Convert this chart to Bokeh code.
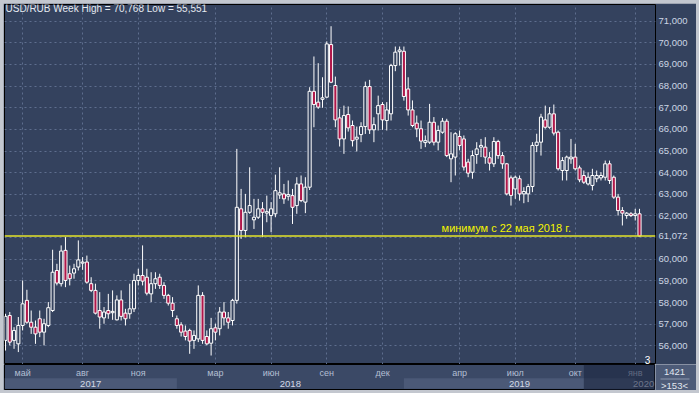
import numpy as np
from bokeh.plotting import figure
from bokeh.models import Range1d, FixedTicker, Label, ColumnDataSource, Span
from bokeh.layouts import column, row
from bokeh.embed import file_html
from bokeh.resources import INLINE
from bokeh.core.properties import value

# ---------------- data (weekly USD/RUB candles) ----------------
opens = [56.25, 57.40, 56.25, 56.09, 56.94, 58.10, 57.09, 56.86, 57.25, 56.63,
         56.94, 57.63, 59.48, 58.87, 60.41, 59.33, 59.36, 59.64, 59.82, 59.87,
         58.87, 58.56, 57.63, 57.29, 57.63, 57.53, 57.20, 58.12, 57.51, 57.48,
         57.71, 59.02, 59.25, 59.17, 58.40, 58.87, 59.17, 58.79, 58.33, 57.97,
         57.25, 56.97, 56.68, 56.71, 56.25, 56.32, 58.33, 56.43, 56.12, 56.83,
         56.79, 57.56, 57.29, 57.17, 58.10, 62.33, 61.33, 62.17, 61.82, 61.94,
         62.33, 62.13, 62.02, 62.10, 62.97, 63.02, 62.91, 62.94, 62.48, 63.48,
         62.64, 63.33, 67.76, 67.26, 67.39, 67.49, 69.92, 68.03, 66.53, 65.56,
         66.69, 66.18, 65.55, 65.76, 66.13, 67.98, 65.98, 66.72, 67.15, 66.41,
         66.72, 68.95, 69.59, 69.61, 67.87, 66.90, 66.29, 66.03, 65.39, 65.41,
         66.33, 65.41, 65.87, 66.38, 64.64, 64.72, 65.67, 65.56, 64.49, 64.02,
         64.84, 65.18, 65.18, 64.69, 64.41, 65.44, 64.79, 64.41, 63.76, 63.25,
         63.72, 63.02, 63.02, 63.36, 65.26, 65.41, 66.44, 66.10, 66.72, 65.87,
         64.10, 64.10, 64.64, 64.72, 64.22, 63.87, 63.48, 63.41, 63.72, 63.76,
         63.79, 64.41, 63.79, 62.87, 62.25, 62.02, 62.10, 62.02, 62.10]
highs = [57.48, 57.56, 56.86, 57.33, 59.02, 58.59, 57.63, 57.17, 57.63, 57.25,
         58.02, 60.44, 59.79, 60.64, 61.02, 59.71, 59.79, 60.87, 60.10, 60.17,
         59.17, 58.87, 58.48, 57.79, 58.40, 58.56, 58.33, 58.56, 57.71, 58.87,
         59.33, 59.56, 60.64, 59.56, 59.40, 59.40, 59.33, 58.94, 58.40, 58.25,
         57.40, 57.09, 56.94, 56.79, 56.71, 58.79, 58.48, 56.71, 57.29, 57.02,
         57.79, 58.02, 57.56, 58.17, 65.10, 63.25, 63.02, 64.25, 62.79, 62.79,
         62.64, 62.94, 62.64, 63.91, 64.25, 63.48, 63.64, 63.25, 63.79, 63.87,
         63.79, 67.95, 69.37, 69.06, 68.41, 70.07, 70.768, 68.44, 66.95, 67.10,
         67.06, 66.41, 66.13, 66.33, 68.21, 68.29, 66.56, 67.56, 67.26, 67.26,
         69.03, 69.83, 69.83, 69.83, 68.41, 67.34, 66.64, 66.41, 65.72, 67.18,
         66.57, 66.18, 66.53, 66.49, 65.87, 65.87, 65.95, 65.72, 64.64, 65.03,
         65.41, 65.56, 65.64, 64.95, 65.64, 65.52, 64.95, 64.45, 63.87, 63.87,
         63.87, 63.33, 63.48, 65.41, 65.80, 66.72, 67.10, 67.03, 67.15, 65.95,
         64.72, 64.79, 65.56, 65.33, 64.33, 64.10, 64.02, 64.18, 64.10, 64.02,
         64.56, 64.56, 63.87, 63.02, 62.41, 62.18, 62.18, 62.33, 62.33]
lows = [55.78, 56.02, 55.86, 55.71, 56.71, 57.02, 56.55, 56.09, 56.40, 56.02,
        56.86, 57.56, 58.79, 58.74, 58.71, 58.79, 59.10, 59.48, 59.51, 58.87,
        58.48, 57.45, 56.79, 57.02, 57.25, 57.20, 57.17, 57.17, 56.94, 57.25,
        57.56, 58.79, 58.79, 58.33, 58.02, 58.63, 58.63, 58.17, 57.86, 57.33,
        56.79, 56.43, 56.25, 55.63, 55.86, 56.17, 56.09, 56.02, 55.551, 56.25,
        56.48, 56.94, 56.79, 56.94, 57.95, 60.94, 61.02, 62.10, 61.40, 61.86,
        61.02, 61.71, 61.25, 61.94, 62.79, 62.56, 62.71, 61.63, 62.10, 62.64,
        62.13, 63.20, 66.10, 66.95, 67.00, 67.46, 68.14, 66.10, 65.21, 64.87,
        65.90, 65.21, 64.98, 65.41, 65.79, 65.79, 65.41, 65.95, 65.98, 65.95,
        66.41, 68.69, 68.95, 67.33, 66.64, 66.10, 65.64, 65.10, 65.18, 65.33,
        65.26, 65.03, 65.80, 64.72, 63.56, 63.87, 65.03, 64.10, 63.79, 63.72,
        64.41, 64.72, 64.41, 64.10, 64.26, 64.64, 64.18, 62.95, 62.48, 62.79,
        62.71, 62.59, 62.64, 63.10, 64.95, 64.79, 66.03, 66.03, 65.72, 64.10,
        63.64, 63.64, 64.41, 64.10, 63.56, 63.48, 63.41, 63.18, 63.56, 63.64,
        63.64, 63.48, 62.79, 62.02, 61.56, 61.87, 61.95, 61.79, 61.05]
closes = [57.36, 56.17, 56.71, 56.94, 57.94, 57.09, 56.86, 56.55, 56.63, 57.02,
          57.76, 59.40, 58.90, 60.38, 59.02, 59.10, 59.56, 59.97, 59.87, 58.94,
          58.56, 57.51, 57.33, 57.56, 57.48, 57.59, 58.12, 57.36, 57.25, 57.71,
          59.02, 59.25, 58.99, 58.43, 58.87, 59.10, 58.79, 58.33, 57.97, 57.63,
          56.94, 56.63, 56.43, 56.22, 56.48, 58.33, 56.25, 56.09, 56.79, 56.63,
          57.56, 57.29, 57.09, 58.10, 62.40, 61.33, 62.17, 62.48, 61.94, 62.33,
          62.17, 62.20, 62.33, 63.17, 63.07, 62.79, 62.99, 62.40, 63.48, 62.71,
          63.33, 67.76, 67.15, 67.03, 67.46, 69.95, 68.18, 66.44, 65.56, 66.64,
          66.07, 65.48, 65.64, 66.13, 67.98, 65.98, 66.22, 67.10, 66.44, 66.90,
          68.95, 69.57, 69.67, 67.52, 66.90, 66.18, 66.03, 65.46, 65.48, 66.33,
          65.41, 65.95, 66.38, 64.79, 64.87, 65.80, 65.26, 64.26, 63.98, 64.79,
          65.10, 65.26, 64.72, 64.44, 65.44, 64.79, 64.41, 63.02, 62.95, 63.79,
          63.02, 63.13, 63.36, 65.26, 65.41, 66.57, 66.10, 66.72, 65.83, 64.18,
          64.56, 64.72, 64.72, 64.18, 63.67, 63.56, 63.79, 63.87, 63.87, 63.87,
          64.41, 63.64, 62.87, 62.25, 62.13, 62.13, 62.02, 62.10, 61.072]

month_labels = ["май", "авг", "ноя", "мар", "июн", "сен", "дек", "апр", "июл", "окт", "янв"]
month_bar = [4, 18, 31, 49, 62, 75, 88, 106, 119, 133, 147]
year_labels = ["2017", "2018", "2019", "2020"]
year_first_bar = [0, 40, 93, 147]
y_ticks = [56, 57, 58, 59, 60, 61, 62, 63, 64, 65, 66, 67, 68, 69, 70, 71]
y_tick_labels = ["56,000", "57,000", "58,000", "59,000", "60,000", "61,000", "62,000", "63,000",
                 "64,000", "65,000", "66,000", "67,000", "68,000", "69,000", "70,000", "71,000"]
last_price = 61.072
last_price_label = "61,072"
note_text = "минимум с 22 мая 2018 г."
note_end_bar = 132
bars_total_text = "1421"
bars_visible_text = ">153<"
corner_text = "3"
scroll_start_bar = 135

# ---------------- style ----------------
BG = "#34425e"
ROW_BG = "#3b4966"
BAND = "#4b5977"
BOX_BG = "#4d5b78"
RED = "#b0174a"
GRID = "#5e6e8e"
FONT = "Liberation Sans"

X0, X1 = -0.23, 151.73
Y0, Y1 = 55.136, 71.772

p = figure(width=693, height=361, x_range=Range1d(X0, X1), y_range=Range1d(Y0, Y1),
           x_axis_location=None, y_axis_location="right", toolbar_location=None,
           output_backend="svg", min_border_left=1, min_border_right=41,
           min_border_top=1, min_border_bottom=0)
p.background_fill_color = BG
p.border_fill_color = BG
p.outline_line_color = "black"
p.outline_line_width = 1

# axis labels: the 61,000 label is hidden behind the last-price marker in the picture
axis_ticks = [t for t in y_ticks if t != 61] + [last_price]
axis_labels = {t: s for t, s in zip(y_ticks, y_tick_labels) if t != 61}
axis_labels[last_price] = last_price_label
p.yaxis.ticker = FixedTicker(ticks=axis_ticks)
p.yaxis.major_label_overrides = axis_labels
p.yaxis.major_tick_out = 0
p.yaxis.major_tick_in = 0
p.yaxis.minor_tick_out = 0
p.yaxis.minor_tick_in = 0
p.yaxis.axis_line_color = None
p.yaxis.major_label_standoff = 3
p.yaxis.major_label_text_font = FONT
p.yaxis.major_label_text_font_size = "9.5px"
p.yaxis.major_label_text_color = "#cdd6e4"

p.ygrid.ticker = FixedTicker(ticks=y_ticks)
p.xgrid.ticker = FixedTicker(ticks=month_bar)
for g in (p.xgrid, p.ygrid):
    g.grid_line_color = GRID
    g.grid_line_dash = "2 3"
    g.grid_line_width = 1

idx = np.arange(len(opens))
o = np.array(opens); h = np.array(highs); l = np.array(lows); c = np.array(closes)
up = c >= o
src_up = ColumnDataSource(dict(x=idx[up], top=c[up], bottom=o[up]))
src_dn = ColumnDataSource(dict(x=idx[~up], top=o[~up], bottom=c[~up]))

p.segment(x0=idx, y0=l, x1=idx, y1=h, line_color="white", line_width=1)
p.vbar(x="x", top="top", bottom="bottom", width=0.72, source=src_up,
       fill_color=BG, line_color="white", line_width=1)
p.vbar(x="x", top="top", bottom="bottom", width=0.72, source=src_dn,
       fill_color=RED, line_color="white", line_width=1)

p.add_layout(Span(location=last_price, dimension="width", line_color="#e4e42a", line_width=1.6))

title_text = "USD/RUB Week High = %s Low = %s" % (("%.3f" % max(highs)).replace(".", ","),
                                                  ("%.3f" % min(lows)).replace(".", ","))
p.add_layout(Label(x=1, y=356, x_units="screen", y_units="screen", text=title_text,
                   text_font=FONT, text_font_size="10px", text_color="#e6eaf1",
                   text_baseline="middle", text_align="left"))

p.add_layout(Label(x=note_end_bar, y=last_price, y_offset=2, text=note_text,
                   text_font=FONT, text_font_size="11px", text_color="#f4f400",
                   text_baseline="bottom", text_align="right"))

p.add_layout(Label(x=643, y=1, x_units="screen", y_units="screen", text=corner_text,
                   text_font=FONT, text_font_size="10px", text_color="white",
                   text_baseline="bottom", text_align="center"))

# ---------------- bottom time panel ----------------
pb = figure(width=652, height=26, x_range=p.x_range, y_range=Range1d(26, 0),
            x_axis_location=None, y_axis_location=None, toolbar_location=None,
            output_backend="svg", min_border_left=1, min_border_right=0,
            min_border_top=0, min_border_bottom=0)
pb.background_fill_color = ROW_BG
pb.border_fill_color = ROW_BG
pb.outline_line_color = "black"
pb.grid.visible = False

band_left = [X0] + year_first_bar[1:]
band_right = year_first_bar[1:] + [X1]
hl = [i % 2 == 0 for i in range(len(year_labels))]
pb.quad(left=[b for b, k in zip(band_left, hl) if k], right=[b for b, k in zip(band_right, hl) if k],
        top=13.7, bottom=24.3, fill_color=BAND, line_color=None)

pb.text(x=month_bar, y=8, text=month_labels, text_font=value(FONT), text_font_size=value("9px"),
        text_color="#b3bfd3", text_align="center", text_baseline="middle")
yc = [(a + b) / 2 for a, b in zip(band_left[:-1], band_right[:-1])]
pb.text(x=yc, y=19, text=year_labels[:-1], text_font=value(FONT), text_font_size=value("9.5px"),
        text_color="#d3dae6", text_align="center", text_baseline="middle")
pb.text(x=[X1 - 0.3], y=[19], text=[year_labels[-1]], text_font=value(FONT),
        text_font_size=value("9.5px"), text_color="#d3dae6", text_align="right", text_baseline="middle")
pb.quad(left=[scroll_start_bar], right=[X1], top=0, bottom=26, fill_color="#18203a",
        fill_alpha=0.55, line_color=None)

pbox = figure(width=41, height=26, x_range=Range1d(0, 41), y_range=Range1d(26, 0),
              x_axis_location=None, y_axis_location=None, toolbar_location=None,
              output_backend="svg", min_border_left=0, min_border_right=0,
              min_border_top=0, min_border_bottom=0)
pbox.background_fill_color = BOX_BG
pbox.border_fill_color = BOX_BG
pbox.outline_line_color = None
pbox.grid.visible = False
pbox.text(x=[19, 19], y=[7.5, 20.5], text=[bars_total_text, bars_visible_text], text_font=value(FONT),
          text_font_size=value("9.5px"), text_color="#e0e6ef", text_align="center", text_baseline="middle")
pbox.segment(x0=[5], y0=[14.5], x1=[34], y1=[14.5], line_color="#8e99ae", line_width=1)

layout = column(p, row(pb, pbox), styles={"padding": "3px", "background-color": "#c3c7cf"})

open("out.html", "w").write(file_html(layout, INLINE))
